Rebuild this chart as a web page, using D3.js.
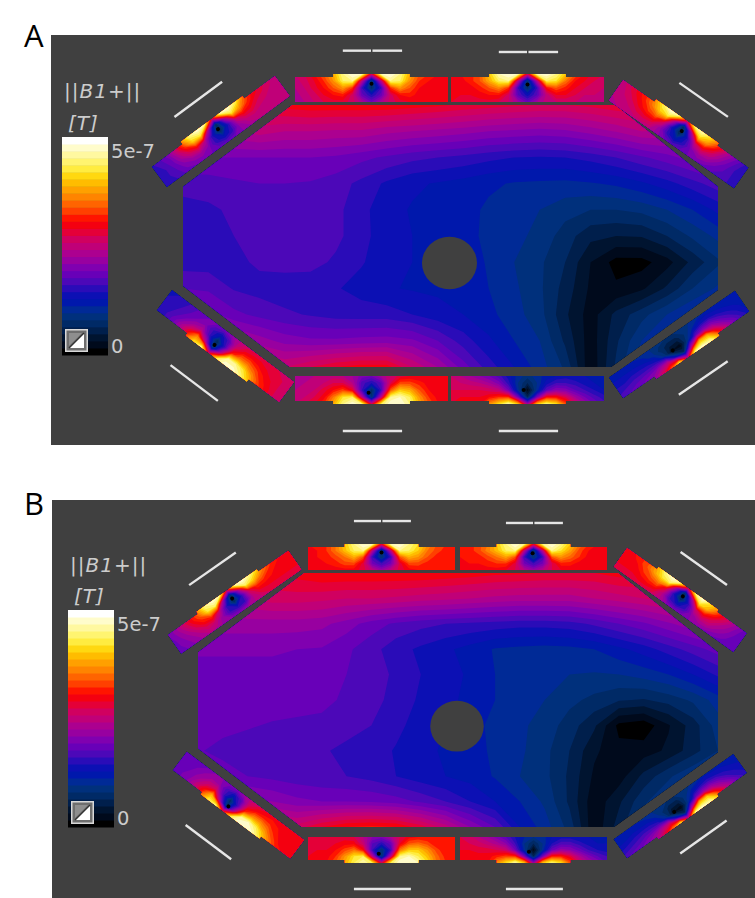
<!DOCTYPE html>
<html>
<head>
<meta charset="utf-8">
<script src="https://cdn.jsdelivr.net/npm/d3@7"></script>
<style>
html, body { margin: 0; padding: 0; background: #fff; }
svg { display: block; }
</style>
</head>
<body>
<div id="chart"></div>
<script>
// All field values are in colour bar steps: 31 steps = 5e-7 T
const bandColors = [
    "#000000", "#000a1c", "#001430", "#001f4c", "#002a66", "#00307c", "#002a96", "#0018ac",
    "#0c10b4", "#2a0cb8", "#4c08b8", "#6800b8", "#8000b0", "#9800a0", "#ac0090", "#c00078",
    "#d00060", "#e40038", "#f40010", "#ff1400", "#ff4000", "#ff6400", "#ff8400", "#ffa000",
    "#ffbc00", "#ffd810", "#ffec40", "#fff470", "#fff8a0", "#fffccc", "#ffffff"
];
const barTickLabels = ["0", "5e-7"];
const quantityLabel = ["||", "B1", "+||"];
const unitLabel = "[T]";

// Field inside the phantom, 22 columns by 11 rows
const fieldA = [
    [17, 17, 17.5, 18, 18.5, 18.8, 18.8, 18.8, 18.8, 18.5, 18.2, 17.8, 17.5, 17.2, 17, 17, 17.3, 17.8, 18, 18, 18, 18],
    [14, 14, 15, 15.5, 15, 15, 14.8, 14.8, 14.3, 14, 13.7, 13.4, 13, 12.8, 12.6, 12.8, 13.4, 14.1, 15, 15, 15, 15],
    [12, 12, 12, 12, 12, 12, 11.8, 11.3, 10.8, 10.3, 10, 9.7, 9.3, 9, 8.9, 9, 9.4, 10, 10.8, 11.6, 12.5, 13.5],
    [10.4, 10.5, 10.8, 11, 11, 10.9, 10.5, 9.7, 8.8, 8.2, 7.9, 7.6, 7.2, 6.9, 6.8, 6.7, 6.9, 7.2, 7.8, 8.6, 9.6, 10.6],
    [9.6, 9.8, 10.2, 10.5, 10.7, 10.7, 10.3, 9.3, 8.4, 7.9, 7.7, 7.4, 6.8, 6.5, 6, 5.4, 5, 5, 5.3, 6, 7, 8.3],
    [9.5, 9.5, 10, 10.3, 10.6, 10.6, 10.3, 9.3, 8.5, 8, 7.7, 7.3, 6.8, 6.3, 5.7, 4.5, 3.3, 3, 3.1, 4, 5.2, 6.3],
    [9.5, 9.5, 9.7, 10.2, 10.4, 10.4, 9.8, 9.1, 8.4, 8, 7.7, 7.5, 6.9, 6, 5.2, 4, 2, 0.6, 0.6, 1.6, 3.3, 4.8],
    [11, 10.8, 9.9, 9.6, 9.4, 9.3, 9.1, 8.6, 8.1, 7.9, 7.8, 7.6, 7, 6.2, 5.2, 3.6, 1.8, 1.2, 1.8, 3.2, 5, 6.2],
    [13, 12.5, 11.3, 10.7, 10.2, 9.9, 9.6, 9.5, 9.5, 9, 8.4, 8, 7.3, 6.4, 5.4, 3.2, 1.5, 3.3, 4.6, 6, 7.2, 8],
    [15, 15, 14.5, 13.5, 12.6, 12.2, 12.2, 12.4, 12.5, 12.2, 11, 9.5, 8.2, 7, 6, 3.8, 1.4, 3.8, 6, 7.5, 8.5, 9],
    [18, 18, 17, 16.5, 16, 17, 18, 18.5, 18.5, 16, 14, 11.5, 9.5, 8, 6.5, 4.8, 1.2, 4.2, 7, 8, 9, 9]
];
const fieldB = [
    [18, 18, 18, 18, 18.5, 19, 19, 19, 19, 19, 18.8, 18.6, 18.3, 18.2, 18, 18, 18, 18.5, 18.5, 18.5, 18.5, 18.5],
    [15.5, 15.5, 16, 16.5, 16.5, 16.3, 16, 16, 15.8, 15.5, 15.3, 15, 14.7, 14.5, 14.5, 14.5, 15, 15.5, 16, 16.5, 16.5, 16.5],
    [13.5, 13.5, 13.5, 13.5, 13.5, 13.3, 12.5, 11.5, 10.8, 10.3, 10, 9.8, 9.6, 9.4, 9.4, 9.6, 10.2, 11, 11.8, 12.8, 13.8, 14.5],
    [12.2, 12.2, 12.2, 12.2, 12, 11.9, 11.2, 10.4, 9.4, 8.8, 8.2, 7.6, 6.9, 6.7, 6.6, 6.7, 7, 7.7, 8.5, 9.5, 10.5, 11.5],
    [11.5, 11.5, 11.5, 11.5, 11.5, 11.4, 11, 10.5, 9.8, 9, 8.5, 7.8, 7, 6.6, 6.2, 6, 5.9, 6, 6.4, 7, 8, 9.2],
    [11.5, 11.5, 11.5, 11.5, 11.4, 11.3, 10.8, 10.3, 9.7, 8.8, 8.3, 7.7, 7, 6.4, 6, 5.3, 4.7, 4.1, 3.9, 4.4, 5.2, 6.5],
    [11.4, 11.3, 11.1, 10.9, 10.8, 10.7, 10.3, 10, 9.3, 8.5, 8, 7.4, 6.7, 6.2, 5.6, 4.5, 3.2, 0.7, 0.3, 1.9, 3.5, 5.5],
    [11.1, 10.7, 10.5, 10.3, 10.2, 10.1, 9.8, 9.5, 8.9, 8.2, 7.9, 7.4, 6.8, 6.2, 5.3, 4, 2.2, 1.3, 1.5, 2.2, 3.6, 5],
    [12, 11.5, 11, 10.7, 10.4, 10.2, 10, 9.6, 9, 8.4, 8, 7.6, 6.9, 6, 5.3, 3.8, 1.8, 1.5, 3.3, 4.8, 6, 7],
    [14, 14, 13.5, 13, 12.3, 12, 12, 11.9, 11.5, 10.8, 10, 9, 8, 7, 5.8, 3.8, 1.3, 2.8, 4.8, 6, 7, 8],
    [18, 18, 17.5, 17, 16.5, 18, 19, 19.3, 19, 17.5, 15.5, 13, 11, 8, 6.5, 4.6, 1.2, 3.5, 6, 7, 8, 8]
];

// Field inside each of the eight coil blocks, 17 columns along the coil,
// 5 rows from the outer edge to the inner edge
const coilsA = {
    top1: [
        [16, 17, 19, 21, 24, 28, 30, 29, 17, 29, 30, 28, 24, 21, 20, 19, 18],
        [15.5, 16.5, 18, 20, 23, 27, 28, 15, 5, 15, 28, 27, 23, 20, 19, 18.5, 18],
        [15, 16, 17.5, 19, 21, 23, 20, 10, 4.5, 10, 20, 23, 21, 19, 18, 18, 18],
        [14.5, 15.5, 16.5, 18, 19, 19.5, 16.5, 11.5, 9, 11.5, 16.5, 19, 19.5, 18.5, 18, 18, 18],
        [14, 15, 16, 17, 17.5, 17.5, 16.5, 14.5, 12, 14.5, 16.5, 17.5, 18, 18, 18, 18, 18]
    ],
    top2: [
        [18, 19, 19.5, 21, 25, 29, 30, 29, 17, 29, 30, 28, 25, 21, 19, 17.5, 17],
        [18, 18.5, 19.5, 21, 24, 27, 28, 15, 5, 15, 27, 26, 22, 19, 18, 17, 16.5],
        [18, 18, 18.5, 19.5, 21, 22.5, 20, 10, 4.5, 10, 19, 21, 19.5, 18, 17, 16.5, 16],
        [18, 18, 18, 18.5, 19, 19, 16.5, 11, 8.5, 11, 15.5, 18, 18, 17, 16, 16, 15.5],
        [18, 17.5, 17.5, 17.5, 17.5, 17, 16, 14, 11.5, 14, 15.5, 16, 16, 16, 15.5, 15, 15]
    ],
    topRight: [
        [15.5, 17, 18.5, 20, 23, 27, 30, 28, 17, 28, 29, 26, 22, 18, 14, 11.5, 9.5],
        [15, 16.5, 18, 19.5, 22, 25, 26, 14, 4, 14, 25, 23, 19, 15, 12.5, 10.5, 9],
        [15, 16, 17, 18.5, 20, 21, 17, 9, 4, 9, 16, 18, 16, 13.5, 11.5, 10, 9],
        [15, 15.5, 16, 17, 17.5, 17, 13.5, 9.5, 7.5, 9.5, 12.5, 14, 13.5, 12, 11, 10, 9],
        [14.5, 15, 15.5, 15.5, 15.5, 15, 13.5, 12, 11, 11.5, 12, 12, 11.5, 11, 10.5, 10, 9]
    ],
    bottomRight: [
        [11, 11.5, 12, 13, 14, 17, 21, 27, 16, 29, 30, 29, 24, 18, 14, 11, 9],
        [10, 10.5, 11, 11.5, 12, 13.5, 15, 8, 4, 15, 24, 24, 18, 14, 11.5, 9.5, 8],
        [9, 9, 9.5, 9.5, 9.5, 9, 6, 2, 1.5, 6, 11, 13, 13, 11, 9.5, 8.5, 7.5],
        [8, 8, 8, 8, 7.5, 6.5, 4.5, 3.5, 3.5, 5, 7, 8.5, 9, 8.5, 8, 7.5, 7],
        [7.5, 7.5, 7, 7, 6.5, 6, 5.5, 5, 5, 5.5, 6, 6.5, 7, 7, 7, 7, 7]
    ],
    bottom2: [
        [18, 18, 18.5, 19, 23, 26, 29, 25, 14, 25, 28, 26, 21, 17, 14, 12, 10.5],
        [17.5, 18, 18, 18, 19, 20, 20, 12, 4, 12, 19, 19, 17, 14, 12, 10.5, 9.5],
        [17, 17, 17, 17, 16.5, 15.5, 12, 6.5, 1.5, 6.5, 11, 13, 12.5, 11, 10, 9, 8],
        [16.5, 16, 15.5, 15, 14, 12.5, 9.5, 6, 4, 6, 8.5, 10, 10, 9.5, 8.5, 8, 7.5],
        [16, 15, 14, 13, 12, 10.5, 8.5, 6.5, 5.5, 6.5, 7.5, 8, 8.5, 8, 8, 7.5, 7]
    ],
    bottom1: [
        [16, 17, 18, 20, 24, 28, 30, 28, 17, 27, 30, 30, 28, 24, 21, 19, 18.5],
        [15.5, 16, 17, 18.5, 22, 26, 27, 15, 5, 15, 28, 29, 27, 23, 20, 18.5, 18],
        [15, 15.5, 16, 17.5, 19, 20.5, 18, 10, 4.5, 10, 21, 25, 24, 21, 19, 18.5, 18],
        [14.5, 15, 15.5, 16, 17, 17, 15, 10.5, 9, 11, 17, 20.5, 20.5, 19.5, 18.5, 18, 18],
        [14, 14.5, 15, 15.5, 15.5, 15, 14, 12.5, 12, 14, 16, 17.5, 18, 18, 18, 18, 18]
    ],
    bottomLeft: [
        [9, 10, 12, 15, 21, 26, 29, 17, 27, 30, 30, 28, 25, 21, 19, 17, 16],
        [9, 10, 11.5, 14, 17.5, 22, 15, 5, 15, 28, 28, 26, 23, 20, 18.5, 17, 16],
        [9, 9.5, 10.5, 12, 14, 15, 10, 4, 10, 19, 22, 22, 20.5, 19, 18, 17, 16],
        [9, 9.5, 10, 11, 12, 12.5, 10, 8, 10.5, 16, 18.5, 19, 18.5, 18, 17.5, 17, 16],
        [8.5, 9, 9.5, 10.5, 11.5, 12, 12, 12, 13.5, 15, 16.5, 17, 17.5, 17.5, 17, 16.5, 16]
    ],
    topLeft: [
        [10, 11, 13, 17, 23, 28, 30, 29, 17, 29, 30, 27, 22, 19, 18, 16.5, 15.5],
        [9.5, 10.5, 12, 15.5, 20, 25, 26, 14, 4, 14, 26, 23, 20, 18, 17, 16, 15],
        [9, 10, 11.5, 14, 16.5, 18.5, 15, 9, 4, 9, 16, 18.5, 18, 16.5, 16, 15.5, 15],
        [9, 10, 11, 12.5, 13.5, 14, 12.5, 9.5, 8, 9.5, 13.5, 15.5, 16, 15.5, 15.5, 15, 15],
        [9, 9.5, 10.5, 11.5, 12, 12, 12, 11.5, 11.5, 12, 13, 14, 15, 15, 15, 15, 15]
    ]
};
const coilsB = {
    top1: [
        [19, 19, 20, 22, 25, 28, 30, 29, 18, 29, 30, 28, 26, 23, 21, 20, 19.5],
        [18.5, 19, 20, 22, 24.5, 27, 28, 15, 5, 15, 28, 27, 25, 22, 20.5, 19.5, 19],
        [18.5, 19, 19.5, 20.5, 22, 24, 21, 10, 5, 10, 21, 24, 23, 21, 19.5, 19, 19],
        [18.5, 18.5, 19, 19.5, 20.5, 20.5, 17.5, 12, 10, 12, 17.5, 20.5, 20.5, 19.5, 19, 19, 19],
        [18, 18.5, 18.5, 18.5, 18.5, 18.5, 17.5, 15.5, 13.5, 15.5, 17.5, 18.5, 19, 19, 19, 19, 19]
    ],
    top2: [
        [19, 19.5, 20.5, 22, 25, 28, 30, 28, 18, 28, 30, 28, 25, 22, 20, 19, 18.5],
        [19, 19.5, 20.5, 22.5, 24.5, 27, 28, 15, 5, 15, 28, 26, 23.5, 20.5, 19, 18.5, 18],
        [19, 19, 19.5, 20.5, 22, 23.5, 21, 10, 5, 10, 21, 23, 21.5, 20, 18.5, 18, 18],
        [18.5, 19, 19, 19.5, 20, 20, 17.5, 12, 10, 12, 17, 19.5, 19.5, 18.5, 18, 18, 18],
        [18.5, 18.5, 18.5, 18.5, 18.5, 18, 17, 15, 13.5, 15, 17, 18, 18, 18, 18, 18, 18]
    ],
    topRight: [
        [18.5, 19, 19.5, 21, 24, 28, 30, 28, 17, 28, 30, 26, 23, 19, 16, 13.5, 11.5],
        [18, 18.5, 19.5, 21, 23.5, 26, 27, 14, 4, 14, 26, 24, 20, 17, 14.5, 12.5, 11],
        [18, 18, 18.5, 20, 21, 22, 18, 9.5, 4, 9.5, 16.5, 18.5, 17, 15, 13.5, 12, 11],
        [18, 18, 18, 18.5, 19, 18.5, 15, 10, 8.5, 10, 13.5, 15, 15, 13.5, 12.5, 11.5, 11],
        [17.5, 17.5, 17.5, 17.5, 17, 16.5, 15, 13, 12.5, 12.5, 13, 13, 12.5, 12, 11.5, 11, 11]
    ],
    bottomRight: [
        [11.5, 12, 12.5, 13.5, 15, 18, 22, 27, 16, 29, 30, 29, 25, 19, 15, 12, 10],
        [10, 10.5, 11, 12, 13, 14.5, 16, 9, 4, 15, 24, 25, 19, 15, 12.5, 10, 9],
        [8.5, 9, 9.5, 10, 10, 9.5, 6.5, 2, 1.5, 6.5, 11.5, 13.5, 13.5, 12, 10, 9, 8.5],
        [7.5, 7.5, 8, 8, 8, 7, 5, 3.5, 3.5, 5.5, 7.5, 9, 9.5, 9, 8.5, 8, 7.5],
        [7, 7, 7, 7, 6.5, 6, 5.5, 5, 5, 5.5, 6, 6.5, 7.5, 7.5, 7.5, 7.5, 7]
    ],
    bottom2: [
        [18.5, 18.5, 19, 19, 23, 26, 29, 25, 14, 25, 28, 26, 21, 17, 14.5, 13, 11],
        [18, 18.5, 18.5, 18.5, 19.5, 20.5, 20, 12, 4, 12, 19.5, 19.5, 17.5, 14.5, 12.5, 11, 10],
        [18, 18, 17.5, 17.5, 17, 16, 12, 6.5, 1.5, 6.5, 11.5, 13.5, 13, 11.5, 10, 9, 8.5],
        [17, 17, 16.5, 15.5, 14.5, 13, 10, 6, 4, 6, 9, 10.5, 10.5, 9.5, 8.5, 8, 8],
        [17, 16.5, 15, 14, 12.5, 11, 9, 7, 6, 6.5, 8, 8.5, 8.5, 8, 8, 7.5, 7.5]
    ],
    bottom1: [
        [18, 18.5, 19, 21, 24, 27, 29, 27, 17, 27, 30, 30, 29, 26, 22, 20, 19.5],
        [18, 18, 18.5, 20, 23, 26, 27, 15, 5, 15, 28, 29, 27, 24.5, 21.5, 19.5, 19],
        [17.5, 18, 18, 19, 20.5, 22, 19, 10, 5, 10, 22, 25, 25, 23, 20.5, 19, 19],
        [17, 17.5, 17.5, 18, 18.5, 18.5, 16, 11, 9.5, 11.5, 18, 21, 21.5, 20.5, 19, 19, 19],
        [17, 17, 17.5, 17.5, 17.5, 17, 15, 13, 12.5, 14.5, 17, 18.5, 19, 19, 19, 19, 19]
    ],
    bottomLeft: [
        [11, 12, 13.5, 16, 22, 27, 29, 18, 27, 30, 30, 29, 26, 23, 20, 19, 18.5],
        [11, 12, 13, 15.5, 19, 24, 15, 5, 15, 28, 29, 27, 24, 21, 19, 18.5, 18.5],
        [11, 11.5, 12.5, 14, 16, 17, 10.5, 4.5, 10.5, 20, 23, 23, 21.5, 19.5, 18.5, 18.5, 18.5],
        [11, 11.5, 12, 13, 14, 13.5, 10.5, 8.5, 11, 17, 19, 19.5, 19.5, 19, 18.5, 18.5, 18.5],
        [11, 11, 11.5, 12, 13, 13, 12.5, 12.5, 14, 15.5, 17, 18, 18.5, 18.5, 18.5, 18.5, 18.5]
    ],
    topLeft: [
        [12, 14, 17, 19, 23, 28, 30, 29, 17, 29, 30, 28, 25, 22, 20, 19, 18.5],
        [12, 13.5, 16, 18.5, 21, 26, 27, 14, 4, 14, 27, 25, 22, 20, 19, 18.5, 18],
        [11.5, 13, 14.5, 17, 19, 20, 16, 9.5, 4, 9.5, 17, 20, 19.5, 19, 18.5, 18, 18],
        [11.5, 12.5, 13.5, 15, 16.5, 16, 13.5, 10, 9, 10, 15, 17.5, 18, 18, 18, 18, 18],
        [11.5, 12, 13, 14, 15, 14.5, 13.5, 13, 13, 14, 15, 16, 17, 17.5, 17.5, 17.5, 17.5]
    ]
};

// Feed point of each coil in coil grid units
const feedsA = {
    top1: [8, 1.4], top2: [8, 1.5], topRight: [8.1, 1.6], bottomRight: [7.1, 2],
    bottom2: [7.6, 2], bottom1: [7.7, 1.6], bottomLeft: [7, 1.4], topLeft: [7.9, 1.7]
};
const feedsB = {
    top1: [8, 1.3], top2: [7.9, 1.4], topRight: [8, 1.5], bottomRight: [7.1, 2],
    bottom2: [7.5, 1.7], bottom1: [7.7, 1.4], bottomLeft: [7.2, 1.1], topLeft: [8, 1.5]
};

// Phantom outline and centre hole, in field grid units
const phantomOutline = [[0, 3.13], [4.3, 0], [16.95, 0], [21, 3.13], [21, 7.05], [16.8, 10], [4.2, 10], [0, 6.9]];
const phantomHole = { col: 10.46, row: 6.03, rCol: 1.08, rRow: 1.0 };
// Coil block outline with the raised strip on the outer edge, in coil grid units
const coilOutline = [[0, 0.43], [4, 0.43], [4, 0], [12, 0], [12, 0.43], [16, 0.43], [16, 4], [0, 4]];

const panels = [
    {
        letter: "A", letterX: 24, letterY: 47,
        bg: [51, 35, 704, 410],
        field: fieldA, coils: coilsA, feeds: feedsA,
        fieldX: [183, 718], fieldY: [105, 367],
        coilLength: 153, coilDepth: 25,
        frames: {
            top1: { x: 295, y: 77, angle: 0, flip: false, bar: -3.33, split: true },
            top2: { x: 451, y: 77, angle: 0, flip: false, bar: -3.14, split: true },
            topRight: { x: 623, y: 80, angle: 35, flip: false, bar: -3.85 },
            bottomRight: { x: 623, y: 398, angle: -34.5, flip: true, bar: -3.71 },
            bottom2: { x: 451, y: 401, angle: 0, flip: true, bar: -3.86 },
            bottom1: { x: 295, y: 401, angle: 0, flip: true, bar: -3.86 },
            bottomLeft: { x: 157, y: 310, angle: 37, flip: true, bar: -4.7, shift: -0.4 },
            topLeft: { x: 152, y: 167, angle: -36.5, flip: false, bar: -3.41 }
        },
        barX: 62, barW: 46, barY: [355, 137],
        iconX: 65, iconY: 329,
        titleX: 64, titleY: 98, unitX: 68, unitY: 130,
        tickX: 111, tickY: [353, 158]
    },
    {
        letter: "B", letterX: 24, letterY: 515,
        bg: [52, 500, 703, 398],
        field: fieldB, coils: coilsB, feeds: feedsB,
        fieldX: [198, 718], fieldY: [573, 827],
        coilLength: 147, coilDepth: 23,
        frames: {
            top1: { x: 308, y: 547, angle: 0, flip: false, bar: -3.6, split: true },
            top2: { x: 460, y: 547, angle: 0, flip: false, bar: -3.3, split: true },
            topRight: { x: 627, y: 548, angle: 35.5, flip: false, bar: -3.9 },
            bottomRight: { x: 627, y: 858, angle: -35.5, flip: true, bar: -3.8 },
            bottom2: { x: 460, y: 860, angle: 0, flip: true, bar: -4.07 },
            bottom1: { x: 308, y: 860, angle: 0, flip: true, bar: -4.07 },
            bottomLeft: { x: 173, y: 770, angle: 37, flip: true, bar: -5.2, shift: -0.3 },
            topLeft: { x: 168, y: 635, angle: -35, flip: false, bar: -4.03 }
        },
        barX: 68, barW: 46, barY: [827, 610],
        iconX: 71, iconY: 801,
        titleX: 70, titleY: 572, unitX: 74, unitY: 603,
        tickX: 117, tickY: [825, 631]
    }
];

const width = 755;
const height = 898;
const background = "#404040";
const textColor = "#cccccc";
const textFont = "'DejaVu Sans', sans-serif";

const svg = d3.select("#chart")
    .append("svg")
    .attr("width", width)
    .attr("height", height)
    .attr("viewBox", `0 0 ${width} ${height}`);

const thresholds = d3.range(0, bandColors.length);
let clipCount = 0;

// Fill a rows-by-columns grid with the colour bands, x and y map grid units to pixels
function drawBands(parent, grid, x, y) {
    const rows = grid.length;
    const cols = grid[0].length;
    const contours = d3.contours().size([cols, rows]).thresholds(thresholds)(grid.flat());
    // d3.contours puts grid point i at i + 0.5
    const path = d3.geoPath(d3.geoTransform({
        point(px, py) { this.stream.point(x(px - 0.5), y(py - 0.5)); }
    }));
    parent.selectAll("path.band")
        .data(contours)
        .enter()
        .append("path")
        .attr("class", "band")
        .attr("d", path)
        .attr("fill", d => bandColors[d.value]);
}

function addClip(parent, outline, x, y) {
    const id = `clip${clipCount++}`;
    parent.append("clipPath")
        .attr("id", id)
        .append("polygon")
        .attr("points", outline.map(p => `${x(p[0])},${y(p[1])}`).join(" "));
    return id;
}

function drawCoil(root, panel, name) {
    const frame = panel.frames[name];
    const u = d3.scaleLinear().domain([0, 16]).range([0, panel.coilLength]);
    const v = d3.scaleLinear().domain([0.43, 4]).range([0, panel.coilDepth]);

    const g = root.append("g")
        .attr("transform", `translate(${frame.x},${frame.y}) rotate(${frame.angle})${frame.flip ? " scale(1,-1)" : ""}`);

    const clipId = addClip(g, coilOutline, u, v);
    drawBands(g.append("g").attr("clip-path", `url(#${clipId})`), panel.coils[name], u, v);

    const feed = panel.feeds[name];
    g.append("circle")
        .attr("cx", u(feed[0]))
        .attr("cy", v(feed[1]))
        .attr("r", 2)
        .attr("fill", "#000");

    // White bar showing the coil position, outside the block
    const shift = frame.shift || 0;
    const spans = frame.split ? [[5, 7.95], [8.1, 11.2]] : [[5 + shift, 11.2 + shift]];
    g.selectAll("line.coil-bar")
        .data(spans)
        .enter()
        .append("line")
        .attr("class", "coil-bar")
        .attr("x1", d => u(d[0]))
        .attr("x2", d => u(d[1]))
        .attr("y1", v(frame.bar))
        .attr("y2", v(frame.bar))
        .attr("stroke", "#e6e6e6")
        .attr("stroke-width", 2.4);
}

function drawColorBar(root, panel) {
    const y = d3.scaleLinear().domain([0, bandColors.length]).range(panel.barY);

    root.selectAll("rect.color-band")
        .data(bandColors)
        .enter()
        .append("rect")
        .attr("class", "color-band")
        .attr("x", panel.barX)
        .attr("width", panel.barW)
        .attr("y", (d, i) => y(i + 1))
        .attr("height", (d, i) => y(i) - y(i + 1) + 0.5)
        .attr("fill", d => d);

    // Small window/level icon in the bottom of the bar
    const icon = root.append("g").attr("transform", `translate(${panel.iconX},${panel.iconY})`);
    icon.append("rect")
        .attr("x", 0.75).attr("y", 0.75)
        .attr("width", 21.5).attr("height", 21.5)
        .attr("fill", "#6e6e6e")
        .attr("stroke", "#d8d8d8")
        .attr("stroke-width", 1.5);
    icon.append("polygon")
        .attr("points", "19,4 19,19 4,19")
        .attr("fill", "#fff");
    icon.append("polygon")
        .attr("points", "4,4 17,4 4,17")
        .attr("fill", "#8e8e8e");
    icon.append("line")
        .attr("x1", 4).attr("y1", 19).attr("x2", 19).attr("y2", 4)
        .attr("stroke", "#333")
        .attr("stroke-width", 1.5);

    root.selectAll("text.bar-tick")
        .data(barTickLabels)
        .enter()
        .append("text")
        .attr("class", "bar-tick")
        .attr("x", panel.tickX)
        .attr("y", (d, i) => panel.tickY[i])
        .attr("font-family", textFont)
        .attr("font-size", 19.5)
        .attr("fill", textColor)
        .text(d => d);

    const title = root.append("text")
        .attr("x", panel.titleX)
        .attr("y", panel.titleY)
        .attr("font-family", textFont)
        .attr("font-size", 20)
        .attr("letter-spacing", 1)
        .attr("fill", textColor);
    title.selectAll("tspan")
        .data(quantityLabel)
        .enter()
        .append("tspan")
        .attr("font-style", d => d === "B1" ? "italic" : "normal")
        .text(d => d);

    root.append("text")
        .attr("x", panel.unitX)
        .attr("y", panel.unitY)
        .attr("font-family", textFont)
        .attr("font-size", 20)
        .attr("font-style", "italic")
        .attr("letter-spacing", 1)
        .attr("fill", textColor)
        .text(unitLabel);
}

panels.forEach(panel => {
    const root = svg.append("g");

    root.append("rect")
        .attr("x", panel.bg[0])
        .attr("y", panel.bg[1])
        .attr("width", panel.bg[2])
        .attr("height", panel.bg[3])
        .attr("fill", background);

    root.append("text")
        .attr("x", panel.letterX)
        .attr("y", panel.letterY)
        .attr("font-family", "'Open Sans', sans-serif")
        .attr("font-size", 31)
        .attr("fill", "#000")
        .text(panel.letter);

    // Phantom field
    const col = d3.scaleLinear().domain([0, 21]).range(panel.fieldX);
    const row = d3.scaleLinear().domain([0, 10]).range(panel.fieldY);
    const clipId = addClip(root, phantomOutline, col, row);
    drawBands(root.append("g").attr("clip-path", `url(#${clipId})`), panel.field, col, row);

    root.append("ellipse")
        .attr("cx", col(phantomHole.col))
        .attr("cy", row(phantomHole.row))
        .attr("rx", col(phantomHole.rCol) - col(0))
        .attr("ry", row(phantomHole.rRow) - row(0))
        .attr("fill", background);

    Object.keys(panel.coils).forEach(name => drawCoil(root, panel, name));

    drawColorBar(root, panel);
});
</script>
</body>
</html>
